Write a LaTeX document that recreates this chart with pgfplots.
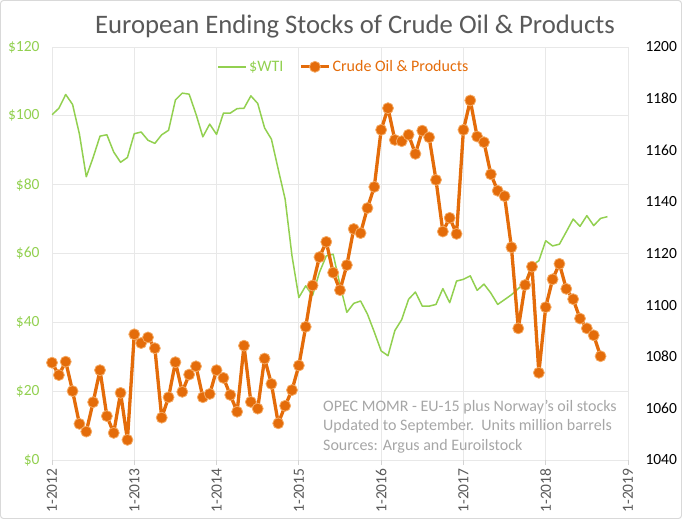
\documentclass[border=0pt]{standalone}
\usepackage{fontspec}
\setmainfont{Carlito}
\usepackage{pgfplots}
\pgfplotsset{compat=1.18}
\definecolor{wti}{RGB}{146,208,80}
\definecolor{oil}{RGB}{228,108,10}
\definecolor{oiledge}{RGB}{244,170,100}
\definecolor{txtgray}{RGB}{89,89,89}
\definecolor{notegray}{RGB}{166,166,166}
\definecolor{gridgray}{RGB}{232,232,232}

% month index: 0 = Jan 2012
\pgfplotstableread{
m wti
0 100.3
1 102.2
2 106.2
3 103.3
4 94.7
5 82.3
6 87.9
7 94.1
8 94.5
9 89.5
10 86.5
11 87.9
12 94.8
13 95.3
14 92.9
15 92.0
16 94.5
17 95.8
18 104.6
19 106.6
20 106.3
21 100.5
22 93.9
23 97.6
24 94.6
25 100.8
26 100.8
27 102.1
28 102.2
29 105.8
30 103.6
31 96.5
32 93.2
33 84.4
34 75.8
35 59.3
36 47.2
37 50.6
38 47.8
39 54.5
40 59.3
41 59.8
42 50.9
43 42.9
44 45.5
45 46.2
46 42.4
47 37.2
48 31.7
49 30.3
50 37.6
51 40.8
52 46.7
53 48.8
54 44.7
55 44.7
56 45.2
57 49.8
58 45.7
59 52.0
60 52.5
61 53.5
62 49.3
63 51.1
64 48.5
65 45.2
66 46.6
67 48.0
68 49.8
69 51.6
70 56.6
71 57.9
72 63.7
73 62.2
74 62.7
75 66.3
76 70.0
77 67.9
78 71.0
79 68.1
80 70.2
81 70.7
}\wtitable

\pgfplotstableread{
m stock
0 1077.7
1 1072.9
2 1078.1
3 1066.7
4 1054.0
5 1051.0
6 1062.4
7 1074.8
8 1057.0
9 1050.5
10 1066.0
11 1047.8
12 1088.7
13 1085.3
14 1087.5
15 1083.3
16 1056.4
17 1064.3
18 1077.9
19 1066.4
20 1073.1
21 1076.3
22 1064.3
23 1065.6
24 1074.8
25 1071.8
26 1065.2
27 1058.7
28 1084.3
29 1062.5
30 1059.9
31 1079.3
32 1069.5
33 1054.2
34 1061.0
35 1067.1
36 1076.6
37 1091.6
38 1107.6
39 1118.6
40 1124.5
41 1112.6
42 1105.8
43 1115.5
44 1129.5
45 1127.9
46 1137.6
47 1145.8
48 1167.9
49 1176.3
50 1164.0
51 1163.5
52 1166.0
53 1158.6
54 1167.6
55 1165.0
56 1148.5
57 1128.5
58 1133.8
59 1127.6
60 1167.9
61 1179.3
62 1165.3
63 1163.1
64 1150.7
65 1144.3
66 1142.2
67 1122.4
68 1091.0
69 1107.8
70 1114.9
71 1073.8
72 1099.2
73 1110.0
74 1116.0
75 1106.3
76 1102.3
77 1094.8
78 1091.0
79 1088.3
80 1080.2
}\stocktable

\begin{document}
\begin{tikzpicture}
\path[use as bounding box] (-52bp,-59bp) rectangle (630bp,460bp);
\draw[gray!30, line width=1bp, rounded corners=3bp] (-51.5bp,-58.5bp) rectangle (629.5bp,459.5bp);

\begin{axis}[
  at={(0,0)}, anchor=south west,
  width=576bp, height=413bp, scale only axis,
  xmin=0, xmax=84, ymin=0, ymax=120,
  xtick={0,12,...,84},
  xticklabels={1-2012,1-2013,1-2014,1-2015,1-2016,1-2017,1-2018,1-2019},
  ytick={0,20,...,120},
  yticklabels={\$0,\$20,\$40,\$60,\$80,\$100,\$120},
  grid=major, grid style={gridgray, line width=0.8bp},
  x axis line style={gridgray!80!gray, line width=0.8bp},
  y axis line style={draw=none},
  xtick pos=bottom, ytick pos=left,
  tick align=outside, major tick length=5bp,
  xtick style={gridgray!80!gray, line width=0.8bp},
  ytick style={draw=none},
  yticklabel style={font=\fontsize{15.5bp}{18bp}\selectfont, text=wti, xshift=-4bp},
  xticklabel style={font=\fontsize{15.5bp}{18bp}\selectfont, text=txtgray, rotate=90, anchor=east},
]
\addplot[wti, line width=1.5bp, line join=round] table[x=m, y=wti] {\wtitable};
\end{axis}

\begin{axis}[
  at={(0,0)}, anchor=south west,
  width=576bp, height=413bp, scale only axis,
  xmin=0, xmax=84, ymin=1040, ymax=1200,
  axis x line=none,
  axis y line*=right,
  y axis line style={draw=none},
  ytick={1040,1060,...,1200},
  yticklabels={1040,1060,1080,1100,1120,1140,1160,1180,1200},
  ytick style={draw=none},
  yticklabel style={font=\fontsize{15.5bp}{18bp}\selectfont, text=black, xshift=14bp},
  legend columns=2,
  legend style={at={(0.507,0.952)}, anchor=center, draw=none, fill=none,
    font=\fontsize{16bp}{18bp}\selectfont,
    /tikz/every even column/.append style={column sep=14bp}},
  legend image code/.code={\draw[mark repeat=2, mark phase=2, #1]
    plot coordinates {(0bp,0bp) (14bp,0bp) (28bp,0bp)};},
]
\addlegendimage{wti, line width=1.5bp}
\addlegendentry{\textcolor{wti}{\$WTI}}
\addplot[oil, line width=3.3bp, line join=round, mark=*, mark size=5.5bp,
  mark options={fill=oil, draw=oiledge, line width=0.8bp}]
  table[x=m, y=stock] {\stocktable};
\addlegendentry{\textcolor{oil}{Crude Oil \& Products}}
\end{axis}

\node[text=txtgray, font=\fontsize{26.7bp}{30bp}\selectfont] at (303bp,433bp)
  {European Ending Stocks of Crude Oil \& Products};
\node[text=notegray, font=\fontsize{16bp}{19.5bp}\selectfont, anchor=north west,
  align=left, inner sep=0pt] at (271bp,60bp)
  {OPEC MOMR - EU-15 plus Norway’s oil stocks\\
   Updated to September.\ \ Units million barrels\\
   Sources: Argus and Euroilstock};
\end{tikzpicture}
\end{document}
